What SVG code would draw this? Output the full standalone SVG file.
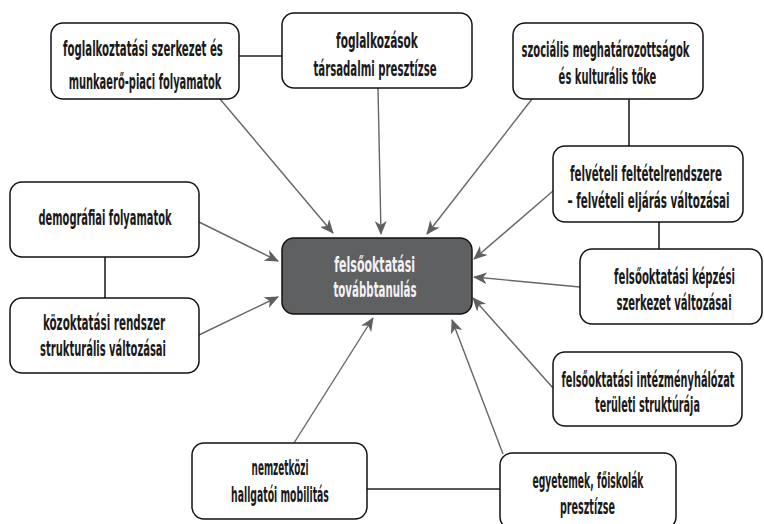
<svg xmlns="http://www.w3.org/2000/svg" width="764" height="524" viewBox="0 0 764 524">
<defs>
<style>
.box{fill:#fff;stroke:#111;stroke-width:1.5}
.core{fill:#5f6062;stroke:#111;stroke-width:1.5}
text{font-family:"DejaVu Sans Condensed","DejaVu Sans",sans-serif;font-stretch:condensed;font-weight:bold;font-size:21px;fill:#1a1a1a;text-anchor:middle}
.core-t{fill:#f2f2f2}
.arr{stroke:#666;stroke-width:1.4;fill:none;marker-end:url(#ah)}
.link{stroke:#222;stroke-width:1.6;fill:none}
</style>
<marker id="ah" viewBox="0 0 14 12" refX="13" refY="6" markerWidth="14" markerHeight="12" markerUnits="userSpaceOnUse" orient="auto">
<path d="M0,0 L14,6 L0,12 L4,6 z" fill="#5f5f5f"/>
</marker>
</defs>
<rect width="764" height="524" fill="#fff"/>
<g id="connectors">
<line class="link" x1="239" y1="56" x2="282" y2="56"/>
<line class="link" x1="629" y1="99" x2="629" y2="146"/>
<line class="link" x1="659" y1="222" x2="659" y2="249"/>
<line class="link" x1="105" y1="257" x2="105" y2="298"/>
<line class="link" x1="367" y1="489" x2="500" y2="489"/>
<line class="arr" x1="220" y1="99" x2="333" y2="233"/>
<line class="arr" x1="378" y1="88" x2="381" y2="234"/>
<line class="arr" x1="532" y1="99" x2="427" y2="234"/>
<line class="arr" x1="553" y1="191" x2="474" y2="259"/>
<line class="arr" x1="580" y1="287" x2="474" y2="277"/>
<line class="arr" x1="553" y1="388" x2="473" y2="298"/>
<line class="arr" x1="503" y1="454" x2="452" y2="320"/>
<line class="arr" x1="294" y1="443" x2="373" y2="318"/>
<line class="arr" x1="199" y1="222" x2="278" y2="261"/>
<line class="arr" x1="199" y1="335" x2="278" y2="297"/>
</g>
<g id="n-foglalkoztatasi">
<rect class="box" x="51" y="23" width="188" height="76" rx="12"/>
<text transform="translate(143,56) scale(0.47,1)" textLength="340" lengthAdjust="spacingAndGlyphs">foglalkoztatási szerkezet és</text>
<text transform="translate(145,89) scale(0.47,1)" textLength="325" lengthAdjust="spacingAndGlyphs">munkaerő-piaci folyamatok</text>
</g>
<g id="n-foglalkozasok">
<rect class="box" x="282" y="13" width="190" height="75" rx="12"/>
<text transform="translate(377,48) scale(0.47,1)" textLength="174" lengthAdjust="spacingAndGlyphs">foglalkozások</text>
<text transform="translate(375,76) scale(0.47,1)" textLength="262" lengthAdjust="spacingAndGlyphs">társadalmi presztízse</text>
</g>
<g id="n-szocialis">
<rect class="box" x="513" y="23" width="190" height="76" rx="12"/>
<text transform="translate(605.5,57) scale(0.47,1)" textLength="357" lengthAdjust="spacingAndGlyphs">szociális meghatározottságok</text>
<text transform="translate(607.5,84) scale(0.47,1)" textLength="208" lengthAdjust="spacingAndGlyphs">és kulturális tőke</text>
</g>
<g id="n-felveteli">
<rect class="box" x="553" y="146" width="190" height="76" rx="12"/>
<text transform="translate(646,181) scale(0.47,1)" textLength="323" lengthAdjust="spacingAndGlyphs">felvételi feltételrendszere</text>
<text transform="translate(648.5,208) scale(0.47,1)" textLength="345" lengthAdjust="spacingAndGlyphs">– felvételi eljárás változásai</text>
</g>
<g id="n-kepzesi">
<rect class="box" x="580" y="249" width="182" height="75" rx="12"/>
<text transform="translate(674.5,283.5) scale(0.47,1)" textLength="257" lengthAdjust="spacingAndGlyphs">felsőoktatási képzési</text>
<text transform="translate(674,309.5) scale(0.47,1)" textLength="245" lengthAdjust="spacingAndGlyphs">szerkezet változásai</text>
</g>
<g id="n-intezmeny">
<rect class="box" x="553" y="352" width="189" height="74" rx="12"/>
<text transform="translate(648,387) scale(0.47,1)" textLength="368" lengthAdjust="spacingAndGlyphs">felsőoktatási intézményhálózat</text>
<text transform="translate(647.5,412) scale(0.47,1)" textLength="223" lengthAdjust="spacingAndGlyphs">területi struktúrája</text>
</g>
<g id="n-egyetemek">
<rect class="box" x="500" y="453" width="176" height="76" rx="12"/>
<text transform="translate(588,487.5) scale(0.47,1)" textLength="236" lengthAdjust="spacingAndGlyphs">egyetemek, főiskolák</text>
<text transform="translate(587.5,513.5) scale(0.47,1)" textLength="117" lengthAdjust="spacingAndGlyphs">presztízse</text>
</g>
<g id="n-nemzetkozi">
<rect class="box" x="192" y="443" width="175" height="76" rx="12"/>
<text transform="translate(280,475) scale(0.47,1)" textLength="121" lengthAdjust="spacingAndGlyphs">nemzetközi</text>
<text transform="translate(280,502) scale(0.47,1)" textLength="208" lengthAdjust="spacingAndGlyphs">hallgatói mobilitás</text>
</g>
<g id="n-demografiai">
<rect class="box" x="10" y="182" width="189" height="75" rx="12"/>
<text transform="translate(105,225) scale(0.47,1)" textLength="283" lengthAdjust="spacingAndGlyphs">demográfiai folyamatok</text>
</g>
<g id="n-kozoktatasi">
<rect class="box" x="10" y="298" width="189" height="75" rx="12"/>
<text transform="translate(104,329.5) scale(0.47,1)" textLength="260" lengthAdjust="spacingAndGlyphs">közoktatási rendszer</text>
<text transform="translate(103,356) scale(0.47,1)" textLength="268" lengthAdjust="spacingAndGlyphs">strukturális változásai</text>
</g>
<g id="n-center">
<rect class="core" x="282" y="238" width="190" height="76" rx="12"/>
<text class="core-t" transform="translate(374.7,272) scale(0.47,1)" textLength="172" lengthAdjust="spacingAndGlyphs">felsőoktatási</text>
<text class="core-t" transform="translate(375,297) scale(0.47,1)" textLength="177" lengthAdjust="spacingAndGlyphs">továbbtanulás</text>
</g>
</svg>
